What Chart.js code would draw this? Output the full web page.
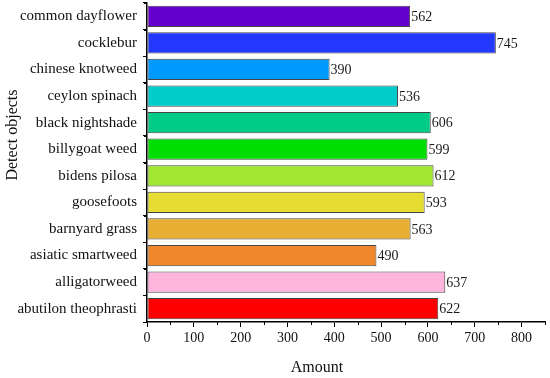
<!DOCTYPE html>
<html>
<head>
<meta charset="utf-8">
<script src="https://cdn.jsdelivr.net/npm/chart.js@4.4.1/dist/chart.umd.min.js"></script>
<style>
  html, body { margin: 0; padding: 0; background: #fff; }
  #wrap { width: 550px; height: 378px; position: relative; }
</style>
</head>
<body>
<div id="wrap"><canvas id="chart"></canvas></div>
<script>
const categories = [
  'common dayflower', 'cocklebur', 'chinese knotweed', 'ceylon spinach',
  'black nightshade', 'billygoat weed', 'bidens pilosa', 'goosefoots',
  'barnyard grass', 'asiatic smartweed', 'alligatorweed', 'abutilon theophrasti',
];
const amounts = [562, 745, 390, 536, 606, 599, 612, 593, 563, 490, 637, 622];
const barColors = [
  '#6600cc', '#2238ff', '#0099ff', '#00cccc', '#00cc88', '#00dd00',
  '#a0e632', '#e6dc32', '#e6af32', '#f0872d', '#ffb4dc', '#ff0000',
];
const xTicks = [0, 100, 200, 300, 400, 500, 600, 700, 800];
const xTitle = 'Amount';
const yTitle = 'Detect objects';

const serif = "'Liberation Serif', 'DejaVu Serif', serif";

// value labels, minor ticks and axis titles
const extras = {
  id: 'extras',
  afterDatasetsDraw(chart) {
    const ctx = chart.ctx;
    const meta = chart.getDatasetMeta(0);
    ctx.save();
    ctx.font = '14px ' + serif;
    ctx.fillStyle = '#1a1a1a';
    ctx.textAlign = 'left';
    ctx.textBaseline = 'middle';
    meta.data.forEach((bar, i) => {
      ctx.fillText(amounts[i], bar.x + 1, bar.y + 1);
    });
    ctx.restore();
  },
  afterDraw(chart) {
    const ctx = chart.ctx;
    const xs = chart.scales.x;
    const ys = chart.scales.y;
    const area = chart.chartArea;
    ctx.save();
    ctx.strokeStyle = '#000';
    ctx.lineWidth = 1;
    // minor x ticks
    for (let v = 50; v <= 850; v += 100) {
      const px = Math.round(xs.getPixelForValue(v)) + 0.5;
      ctx.beginPath();
      ctx.moveTo(px, area.bottom);
      ctx.lineTo(px, area.bottom + 3);
      ctx.stroke();
    }
    // minor y ticks between categories
    for (let i = 0; i <= categories.length; i++) {
      const py = Math.round(ys.getPixelForValue(i - 0.5)) + 0.5;
      ctx.beginPath();
      ctx.moveTo(area.left, py);
      ctx.lineTo(area.left - 3, py);
      ctx.stroke();
    }
    // axis titles
    ctx.fillStyle = '#111';
    ctx.font = '16px ' + serif;
    ctx.textAlign = 'center';
    ctx.textBaseline = 'middle';
    ctx.fillText(xTitle, 317, 368);
    ctx.translate(13, 135);
    ctx.rotate(-Math.PI / 2);
    ctx.fillText(yTitle, 0, 0);
    ctx.restore();
  },
};

new Chart(document.getElementById('chart').getContext('2d'), {
  type: 'bar',
  data: {
    labels: categories,
    datasets: [
      {
        data: amounts,
        backgroundColor: barColors,
        borderColor: '#444',
        borderWidth: 1,
        borderSkipped: false,
        barPercentage: 0.8,
        categoryPercentage: 1,
      },
    ],
  },
  options: {
    indexAxis: 'y',
    responsive: true,
    maintainAspectRatio: false,
    animation: false,
    layout: { padding: { top: 3, right: 5, left: 0, bottom: 0 } },
    plugins: {
      legend: { display: false },
      tooltip: { enabled: false },
    },
    scales: {
      x: {
        min: 0,
        max: 850,
        afterFit: (scale) => {
          scale.height = 56;
          scale.paddingLeft = 0;
          scale.paddingRight = 0;
        },
        afterBuildTicks: (scale) => {
          scale.ticks = xTicks.map((v) => ({ value: v }));
        },
        grid: {
          drawOnChartArea: false,
          drawTicks: true,
          tickLength: 5,
          color: '#000',
        },
        border: { display: true, color: '#000', width: 1.5 },
        ticks: {
          color: '#111',
          padding: 3,
          maxRotation: 0,
          font: { family: serif, size: 14 },
        },
      },
      y: {
        afterFit: (scale) => {
          scale.width = 147;
          scale.paddingTop = 0;
          scale.paddingBottom = 0;
        },
        grid: {
          drawOnChartArea: false,
          drawTicks: true,
          tickLength: 4,
          color: '#000',
        },
        border: { display: true, color: '#000', width: 1.5 },
        ticks: {
          color: '#111',
          padding: 6,
          autoSkip: false,
          font: { family: serif, size: 15 },
        },
      },
    },
  },
  plugins: [extras],
});
</script>
</body>
</html>
